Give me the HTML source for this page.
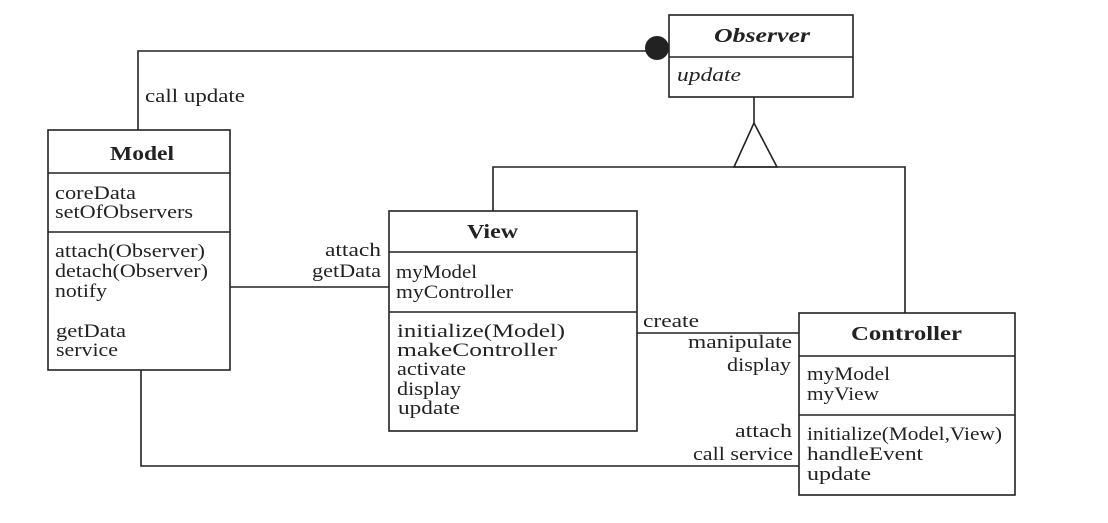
<!DOCTYPE html>
<html><head><style>
html,body{margin:0;padding:0;background:#fff;}
svg{display:block;}
text{font-family:"Liberation Serif",serif;font-size:19px;fill:#222;}
.b{font-weight:bold;font-size:20px;}
.i{font-style:italic;}
</style></head><body>
<svg width="1108" height="523" viewBox="0 0 1108 523" xmlns="http://www.w3.org/2000/svg">
<g fill="none" stroke="#222" stroke-width="1.6">
<rect x="48" y="130" width="182" height="240"/>
<line x1="48" y1="173" x2="230" y2="173"/>
<line x1="48" y1="232" x2="230" y2="232"/>
<rect x="389" y="211" width="248" height="220"/>
<line x1="389" y1="252" x2="637" y2="252"/>
<line x1="389" y1="312" x2="637" y2="312"/>
<rect x="669" y="15" width="184" height="82"/>
<line x1="669" y1="57" x2="853" y2="57"/>
<rect x="799" y="313" width="216" height="182"/>
<line x1="799" y1="356" x2="1015" y2="356"/>
<line x1="799" y1="415" x2="1015" y2="415"/>
<polyline points="138,130 138,51 650,51"/>
<line x1="230" y1="287" x2="389" y2="287"/>
<polyline points="141,370 141,466 799,466"/>
<line x1="637" y1="333" x2="799" y2="333"/>
<line x1="754" y1="97" x2="754" y2="123"/>
<polygon points="754,123 734,167 777,167"/>
<polyline points="493,211 493,167 905,167 905,313"/>
</g>
<circle cx="657" cy="48" r="12" fill="#222"/>
<text x="145" y="102" textLength="100" lengthAdjust="spacingAndGlyphs">call update</text>
<text class="b" x="110" y="160" textLength="64" lengthAdjust="spacingAndGlyphs">Model</text>
<text x="55" y="199" textLength="81" lengthAdjust="spacingAndGlyphs">coreData</text>
<text x="55" y="218" textLength="138" lengthAdjust="spacingAndGlyphs">setOfObservers</text>
<text x="55" y="257" textLength="150" lengthAdjust="spacingAndGlyphs">attach(Observer)</text>
<text x="55" y="277" textLength="153" lengthAdjust="spacingAndGlyphs">detach(Observer)</text>
<text x="55" y="297" textLength="52" lengthAdjust="spacingAndGlyphs">notify</text>
<text x="56" y="337" textLength="70" lengthAdjust="spacingAndGlyphs">getData</text>
<text x="56" y="356" textLength="62" lengthAdjust="spacingAndGlyphs">service</text>

<text x="325" y="256" textLength="56" lengthAdjust="spacingAndGlyphs">attach</text>
<text x="312" y="277" textLength="69" lengthAdjust="spacingAndGlyphs">getData</text>

<text class="b" x="467" y="238" textLength="51" lengthAdjust="spacingAndGlyphs">View</text>
<text x="396" y="278" textLength="81" lengthAdjust="spacingAndGlyphs">myModel</text>
<text x="396" y="298" textLength="117" lengthAdjust="spacingAndGlyphs">myController</text>
<text x="397" y="337" textLength="168" lengthAdjust="spacingAndGlyphs">initialize(Model)</text>
<text x="397" y="356" textLength="160" lengthAdjust="spacingAndGlyphs">makeController</text>
<text x="397" y="375" textLength="69" lengthAdjust="spacingAndGlyphs">activate</text>
<text x="397" y="395" textLength="64" lengthAdjust="spacingAndGlyphs">display</text>
<text x="398" y="414" textLength="62" lengthAdjust="spacingAndGlyphs">update</text>

<text class="b i" x="714" y="42" textLength="96" lengthAdjust="spacingAndGlyphs">Observer</text>
<text class="i" x="677" y="81" textLength="64" lengthAdjust="spacingAndGlyphs">update</text>

<text x="643" y="327" textLength="56" lengthAdjust="spacingAndGlyphs">create</text>
<text x="688" y="348" textLength="104" lengthAdjust="spacingAndGlyphs">manipulate</text>
<text x="727" y="371" textLength="64" lengthAdjust="spacingAndGlyphs">display</text>
<text x="735" y="437" textLength="57" lengthAdjust="spacingAndGlyphs">attach</text>
<text x="693" y="460" textLength="100" lengthAdjust="spacingAndGlyphs">call service</text>

<text class="b" x="851" y="340" textLength="111" lengthAdjust="spacingAndGlyphs">Controller</text>
<text x="807" y="380" textLength="83" lengthAdjust="spacingAndGlyphs">myModel</text>
<text x="807" y="400" textLength="72" lengthAdjust="spacingAndGlyphs">myView</text>
<text x="807" y="440" textLength="195" lengthAdjust="spacingAndGlyphs">initialize(Model,View)</text>
<text x="807" y="460" textLength="116" lengthAdjust="spacingAndGlyphs">handleEvent</text>
<text x="807" y="480" textLength="64" lengthAdjust="spacingAndGlyphs">update</text>
</svg>
</body></html>
